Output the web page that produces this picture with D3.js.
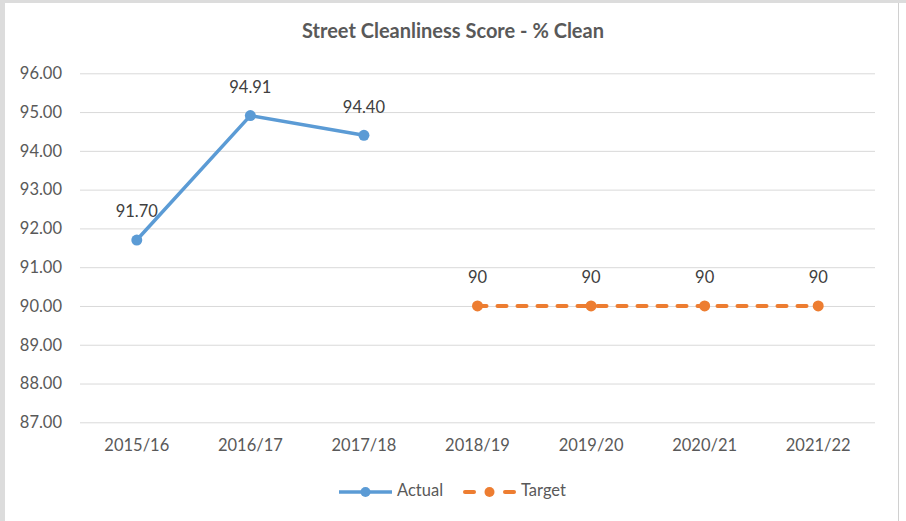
<!DOCTYPE html>
<html>
<head>
<meta charset="utf-8">
<script src="https://cdn.jsdelivr.net/npm/d3@7/dist/d3.min.js"></script>
<style>
  html, body { margin: 0; padding: 0; background: #dcdcdc; }
  svg { display: block; }
  text { font-family: Lato, "Open Sans", sans-serif; }
</style>
</head>
<body>
<svg id="chart" width="906" height="521"></svg>
<script>
// Chart data
const years = ["2015/16", "2016/17", "2017/18", "2018/19", "2019/20", "2020/21", "2021/22"];
const actual = [91.70, 94.91, 94.40, null, null, null, null];
const target = [null, null, null, 90, 90, 90, 90];
const yTicks = [87, 88, 89, 90, 91, 92, 93, 94, 95, 96];
const title = "Street Cleanliness Score - % Clean";

const svg = d3.select("#chart");
const W = 906, H = 521;

// Chart frame
svg.append("rect").attr("x", 0).attr("y", 0).attr("width", W).attr("height", H).attr("fill", "#dcdcdc");
svg.append("rect").attr("x", 5).attr("y", 3).attr("width", 893).attr("height", H - 3).attr("fill", "#ffffff");
svg.append("line").attr("x1", 898.5).attr("x2", 898.5).attr("y1", 3).attr("y2", H)
  .attr("stroke", "#d0d0d0").attr("stroke-width", 1);
svg.append("rect").attr("x", 899).attr("y", 3).attr("width", 7).attr("height", H - 3).attr("fill", "#ffffff");

const plot = { left: 80, right: 875, top: 73.3, bottom: 422.3 };

const x = d3.scaleBand().domain(years).range([plot.left, plot.right]);
const y = d3.scaleLinear().domain([87, 96]).range([plot.bottom, plot.top]);
const cx = d => x(d) + x.bandwidth() / 2;

// Title
svg.append("text")
  .attr("x", 453).attr("y", 33)
  .attr("text-anchor", "middle").attr("dominant-baseline", "middle")
  .attr("font-size", 20).attr("font-weight", "bold").attr("fill", "#595959")
  .text(title);

// Gridlines and value axis
const yAxis = d3.axisLeft(y).tickValues(yTicks).tickSize(-(plot.right - plot.left))
  .tickFormat(d3.format(".2f")).tickPadding(18);
const gy = svg.append("g").attr("transform", `translate(${plot.left},0)`).call(yAxis);
gy.select(".domain").remove();
gy.selectAll(".tick line").attr("stroke", "#d9d9d9").attr("stroke-width", 1);
gy.selectAll(".tick text").attr("font-size", 16.5).attr("fill", "#595959")
  .attr("font-family", "Lato, 'Open Sans', sans-serif");

// Category axis
const xAxis = d3.axisBottom(x).tickSize(0).tickPadding(17);
const gx = svg.append("g").attr("transform", `translate(0,${plot.bottom})`).call(xAxis);
gx.select(".domain").remove();
gx.selectAll(".tick text").attr("font-size", 16.5).attr("fill", "#595959")
  .attr("font-family", "Lato, 'Open Sans', sans-serif");

const blue = "#5B9BD5", orange = "#ED7D31";

function series(values, color, dashed, fmt) {
  const pts = years.map((yr, i) => ({ yr, v: values[i] })).filter(d => d.v != null);
  const line = d3.line().x(d => cx(d.yr)).y(d => y(d.v));
  const path = svg.append("path").datum(pts).attr("d", line)
    .attr("fill", "none").attr("stroke", color)
    .attr("stroke-width", dashed ? 4 : 3.5).attr("stroke-linejoin", "round");
  if (dashed) path.attr("stroke-dasharray", "9,11").attr("stroke-linecap", "round");
  svg.append("g").selectAll("circle").data(pts).join("circle")
    .attr("cx", d => cx(d.yr)).attr("cy", d => y(d.v)).attr("r", 5.5).attr("fill", color);
  svg.append("g").selectAll("text").data(pts).join("text")
    .attr("x", d => cx(d.yr)).attr("y", d => y(d.v) - 27)
    .attr("text-anchor", "middle").attr("dominant-baseline", "middle")
    .attr("font-size", 16.5).attr("fill", "#404040")
    .text(d => fmt(d.v));
}

series(actual, blue, false, d3.format(".2f"));
series(target, orange, true, d3.format("d"));

// Legend
const ly = 492;
const lg = svg.append("g");
lg.append("line").attr("x1", 339).attr("x2", 392).attr("y1", ly).attr("y2", ly)
  .attr("stroke", blue).attr("stroke-width", 3.5);
lg.append("circle").attr("cx", 365.5).attr("cy", ly).attr("r", 5).attr("fill", blue);
lg.append("text").attr("x", 397).attr("y", ly).attr("dominant-baseline", "middle")
  .attr("font-size", 16.5).attr("fill", "#595959").text("Actual");
[[465, 474], [505, 514]].forEach(([a, b]) => {
  lg.append("line").attr("x1", a).attr("x2", b).attr("y1", ly).attr("y2", ly)
    .attr("stroke", orange).attr("stroke-width", 4).attr("stroke-linecap", "round");
});
lg.append("circle").attr("cx", 489.5).attr("cy", ly).attr("r", 5).attr("fill", orange);
lg.append("text").attr("x", 521).attr("y", ly).attr("dominant-baseline", "middle")
  .attr("font-size", 16.5).attr("fill", "#595959").text("Target");
</script>
</body>
</html>
